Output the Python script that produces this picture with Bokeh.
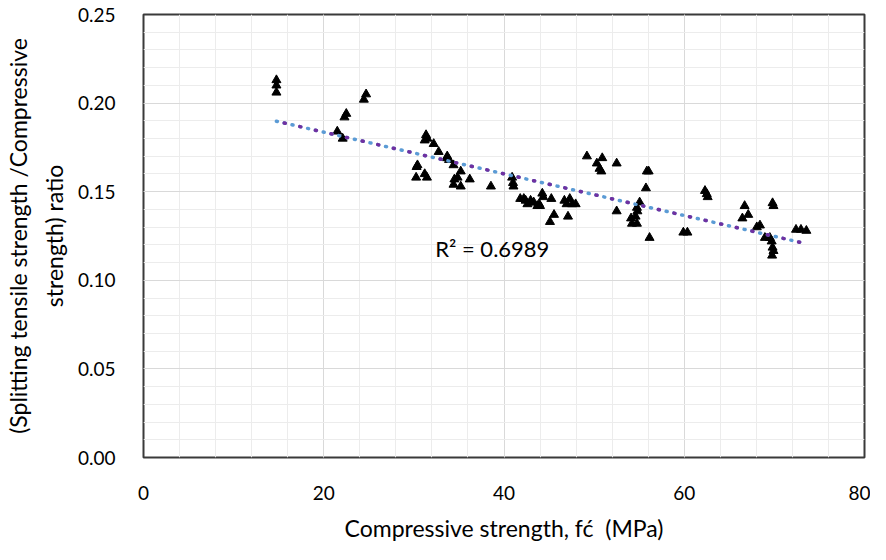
import numpy as np
from bokeh.plotting import figure
from bokeh.models import ColumnDataSource, Label, FixedTicker, NumeralTickFormatter
from bokeh.embed import file_html
from bokeh.resources import INLINE

# Compressive strength fc' (MPa)
fc = [14.75, 14.75, 14.75,
      21.5, 22.1, 22.3, 22.5, 24.45, 24.7,
      31.35, 31.5, 31.2, 32.2, 32.75, 33.7, 33.65, 33.9, 34.4, 35.2,
      30.4, 30.3, 30.25, 31.2, 31.45, 34.5, 34.85, 34.4, 35.2, 36.2, 38.55,
      40.9, 41.0, 41.05,
      41.8, 42.2, 42.4, 42.6, 42.95, 43.0, 43.3, 43.7, 43.9, 44.0, 44.25, 44.35,
      45.25, 45.55, 45.1,
      46.7, 46.95, 47.3, 47.55, 47.95, 47.1,
      49.2, 50.3, 50.6, 50.8, 50.9,
      52.5, 52.5,
      55.85, 56.05, 55.75, 55.05, 54.75, 54.8, 54.6, 54.1, 54.2, 54.75, 56.15,
      59.9, 60.35,
      62.3, 62.5, 62.6,
      66.7, 66.45, 67.1,
      68.05, 68.4, 68.95, 69.5,
      69.8, 69.9,
      69.7, 69.8, 69.9, 69.75,
      72.4, 72.95, 73.55]

# Splitting tensile / compressive strength ratio
ratio = [0.213, 0.210, 0.206,
         0.184, 0.180, 0.192, 0.194, 0.202, 0.205,
         0.182, 0.180, 0.179, 0.177, 0.1725, 0.170, 0.169, 0.168, 0.165, 0.1615,
         0.165, 0.164, 0.158, 0.160, 0.158, 0.157, 0.158, 0.154, 0.153, 0.157, 0.153,
         0.158, 0.155, 0.153,
         0.146, 0.146, 0.145, 0.143, 0.145, 0.144, 0.144, 0.142, 0.143, 0.142, 0.149, 0.147,
         0.146, 0.137, 0.133,
         0.145, 0.143, 0.146, 0.143, 0.143, 0.136,
         0.170, 0.166, 0.163, 0.1615, 0.169,
         0.166, 0.139,
         0.1615, 0.1615, 0.152, 0.144, 0.141, 0.139, 0.136, 0.135, 0.132, 0.132, 0.124,
         0.127, 0.127,
         0.1505, 0.1487, 0.147,
         0.142, 0.135, 0.137,
         0.130, 0.131, 0.124, 0.124,
         0.1436, 0.142,
         0.122, 0.1185, 0.1166, 0.114,
         0.1286, 0.1286, 0.128]

x_ticks = [0, 20, 40, 60, 80]
y_ticks = [0.00, 0.05, 0.10, 0.15, 0.20, 0.25]
r2_text = "R\u00b2 = 0.6989"

FONT = "Lato"

p = figure(width=870, height=544, x_range=(0, 80), y_range=(0, 0.25),
           output_backend="svg", toolbar_location=None,
           min_border_left=139, min_border_right=6, min_border_top=14, min_border_bottom=74)

p.background_fill_color = "white"
p.border_fill_color = "white"
p.outline_line_color = "#3a3a3a"
p.outline_line_width = 2

for ax in (p.xaxis[0], p.yaxis[0]):
    ax.axis_line_color = None
    ax.major_tick_line_color = None
    ax.minor_tick_line_color = None
    ax.major_label_text_font = FONT
    ax.major_label_text_font_size = "19px"
    ax.major_label_text_color = "#000000"
    ax.axis_label_text_font = FONT
    ax.axis_label_text_font_size = "23px"
    ax.axis_label_text_font_style = "normal"
    ax.axis_label_text_color = "#000000"
    ax.axis_label_text_align = "center"
    ax.axis_label_text_line_height = 1.3

p.xaxis.ticker = FixedTicker(ticks=x_ticks, minor_ticks=list(np.arange(0, 81, 4)))
p.yaxis.ticker = FixedTicker(ticks=y_ticks, minor_ticks=list(np.round(np.arange(0, 0.2501, 0.01), 2)))
p.yaxis.formatter = NumeralTickFormatter(format="0.00")
p.xaxis.major_label_standoff = 22
p.yaxis.major_label_standoff = 22
p.xaxis.axis_label = "Compressive strength, fc\u0301\u00a0\u00a0(MPa)"
p.yaxis.axis_label = "(Splitting tensile strength /Compressive\nstrength) ratio"
p.xaxis.axis_label_standoff = 11
p.yaxis.axis_label_standoff = 7

p.xgrid.grid_line_color = "#d9d9d9"
p.ygrid.grid_line_color = "#d9d9d9"
p.xgrid.minor_grid_line_color = "#ececec"
p.ygrid.minor_grid_line_color = "#ececec"

src = ColumnDataSource(dict(x=fc, y=ratio))
p.scatter("x", "y", source=src, marker="triangle", size=9,
          fill_color="black", line_color="black")

# linear trend line from the data
xa = np.array(fc)
ya = np.array(ratio)
slope, intercept = np.polyfit(xa, ya, 1)
tx = [xa.min(), xa.max()]
ty = [intercept + slope * t for t in tx]
p.line(tx, ty, line_color="#5b9bd5", line_width=3.5, line_dash="1 7", line_cap="round")
p.line(tx, ty, line_color="#7030a0", line_width=3.5, line_dash="1 15",
       line_dash_offset=8, line_cap="round")

p.add_layout(Label(x=38.7, y=0.1177, text=r2_text, text_align="center",
                   text_baseline="middle", text_font=FONT, text_font_size="22px",
                   text_color="#000000"))

open("out.html", "w").write(file_html(p, INLINE))
